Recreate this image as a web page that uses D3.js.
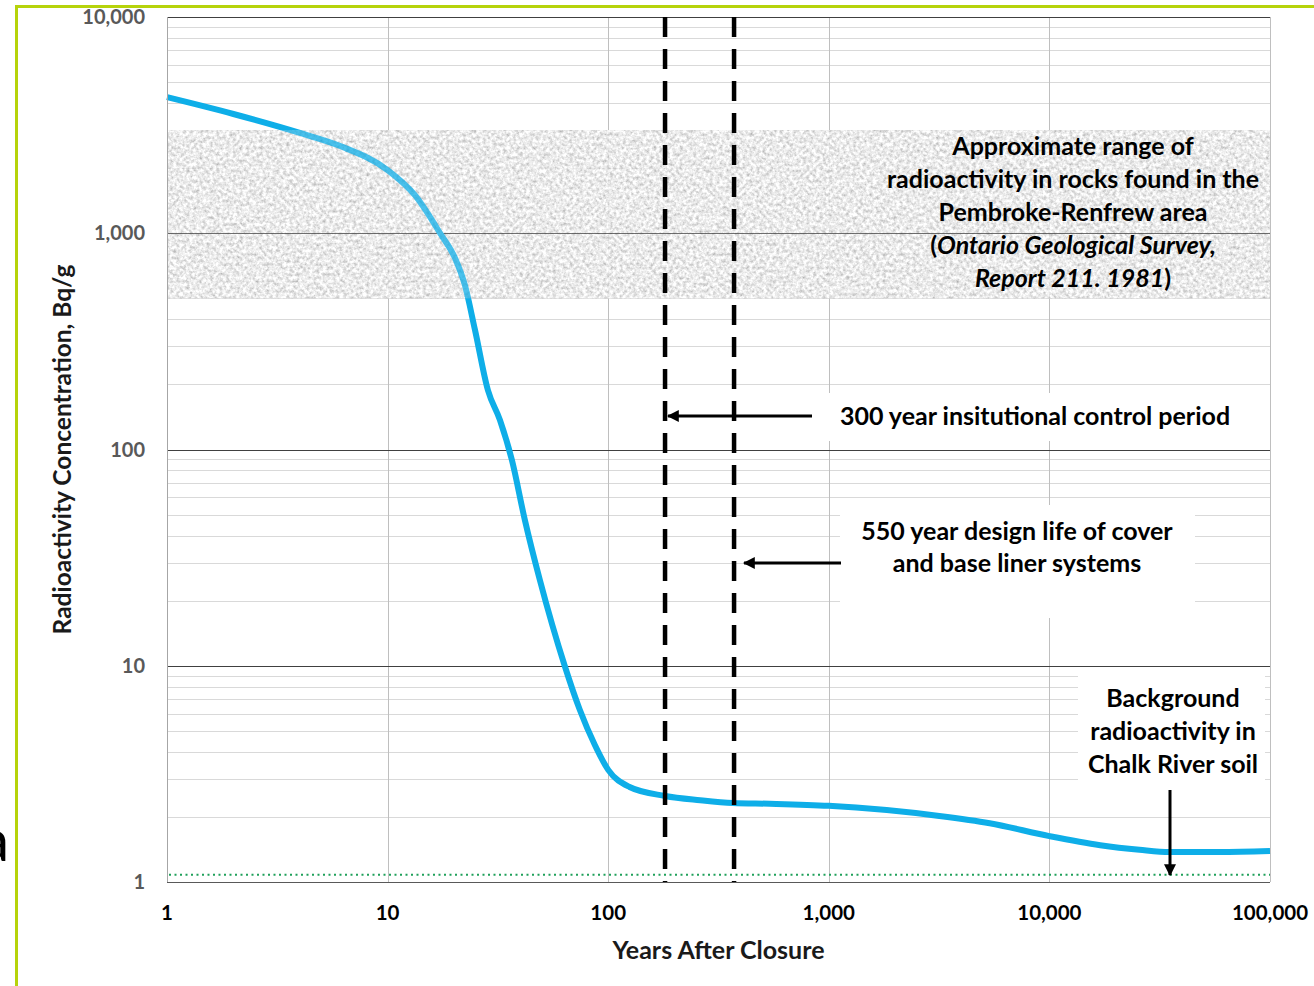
<!DOCTYPE html>
<html>
<head>
<meta charset="utf-8">
<script src="https://cdn.jsdelivr.net/npm/d3@7"></script>
<style>
  body { margin: 0; background: #fff; }
  text { font-family: Lato, "Open Sans", sans-serif; font-weight: bold; }
</style>
</head>
<body>
<div id="chart"></div>
<script>
/* DATA */
const years = [1, 2, 4, 6.1, 10, 13.3, 17.3, 20.2, 22.4, 24.9, 28.5, 32.3, 36.6, 41.9, 49, 63.5, 74.4, 87, 100, 125, 181, 261, 368, 540, 1000, 3170, 5360, 10000, 17000, 25600, 35000, 59000, 100000];
const activity = [4260, 3560, 2910, 2530, 1960, 1500, 1000, 768, 576, 357, 188, 137, 89.4, 47.2, 24.9, 10, 6.24, 4.3, 3.3, 2.75, 2.5, 2.39, 2.32, 2.3, 2.25, 2.02, 1.87, 1.63, 1.48, 1.41, 1.376, 1.376, 1.39];
const rockRange = [500, 3000];          // grey band, Bq/g
const soilBackground = 1.08;            // dotted green line
const controlLines = [181, 372];        // dashed verticals (years)
const xTicks = [1, 10, 100, 1000, 10000, 100000];
const yTicks = [1, 10, 100, 1000, 10000];

const width = 1314, height = 986,
  margin = { top: 17, right: 44, bottom: 104, left: 167 };

const svg = d3.select("#chart").append("svg")
  .attr("width", width)
  .attr("height", height);

// noisy grey texture for the rock band
const defs = svg.append("defs");
const noise = defs.append("filter").attr("id", "granite")
  .attr("x", 0).attr("y", 0).attr("width", 1).attr("height", 1);
noise.append("feTurbulence")
  .attr("type", "fractalNoise").attr("baseFrequency", 0.3)
  .attr("numOctaves", 4).attr("seed", 7).attr("result", "n");
noise.append("feColorMatrix").attr("in", "n").attr("type", "matrix")
  .attr("values", "1 0 0 0 0.32  1 0 0 0 0.32  1 0 0 0 0.32  0 0 0 0 1")
  .attr("result", "g");
noise.append("feComposite").attr("in", "g").attr("in2", "SourceGraphic").attr("operator", "in");

defs.append("marker").attr("id", "head")
  .attr("viewBox", "0 0 10 10").attr("refX", 9).attr("refY", 5)
  .attr("markerWidth", 4).attr("markerHeight", 4)
  .attr("markerUnits", "strokeWidth").attr("orient", "auto")
  .append("path").attr("d", "M0,0 L10,5 L0,10 z").attr("fill", "#000");

/* SCALES */
const xScale = d3.scaleLog()
  .domain([1, 100000])
  .range([margin.left, width - margin.right]);
const yScale = d3.scaleLog()
  .domain([1, 10000])
  .range([height - margin.bottom, margin.top]);

const x0 = xScale.range()[0], x1 = xScale.range()[1];
const yBot = yScale.range()[0], yTop = yScale.range()[1];

// border of the slide
svg.append("path")
  .attr("d", `M16.5,${height} V6.5 H${width}`)
  .attr("fill", "none").attr("stroke", "#b6d30b").attr("stroke-width", 3);
svg.append("text")
  .attr("x", 9).attr("y", 861).attr("text-anchor", "end")
  .attr("font-size", 58).style("font-weight", "normal").attr("fill", "#000")
  .text("a");

/* GRIDLINES */
const minor = [];
yTicks.slice(0, -1).forEach(t => { for (let k = 2; k <= 9; k++) minor.push(t * k); });
svg.append("g").selectAll("line").data(minor).join("line")
  .attr("x1", x0).attr("x2", x1)
  .attr("y1", d => Math.round(yScale(d)) + 0.5).attr("y2", d => Math.round(yScale(d)) + 0.5)
  .attr("stroke", "#d9d9d9");
svg.append("g").selectAll("line").data(xTicks).join("line")
  .attr("x1", d => Math.round(xScale(d)) + 0.5).attr("x2", d => Math.round(xScale(d)) + 0.5)
  .attr("y1", yTop).attr("y2", yBot)
  .attr("stroke", "#bfbfbf");

/* ROCK BAND */
function bandRect(opacity) {
  svg.append("rect")
    .attr("x", x0).attr("width", x1 - x0)
    .attr("y", yScale(rockRange[1]))
    .attr("height", yScale(rockRange[0]) - yScale(rockRange[1]))
    .attr("fill", "#ccc")
    .attr("opacity", opacity)
    .attr("filter", "url(#granite)");
}
bandRect(0.85);

svg.append("g").selectAll("line").data(yTicks.slice(1)).join("line")
  .attr("x1", x0).attr("x2", x1)
  .attr("y1", d => Math.round(yScale(d)) + 0.5).attr("y2", d => Math.round(yScale(d)) + 0.5)
  .attr("stroke", "#404040");

/* CURVE */
const lineGen = d3.line()
  .x(d => xScale(d[0]))
  .y(d => yScale(d[1]))
  .curve(d3.curveMonotoneX);
svg.append("path")
  .datum(d3.zip(years, activity))
  .attr("fill", "none")
  .attr("stroke", "#0eaee8")
  .attr("stroke-width", 6)
  .attr("stroke-linejoin", "round")
  .attr("d", lineGen);

// thin veil of the band over the curve
bandRect(0.25);

// soil background line
svg.append("line")
  .attr("x1", x0 + 2).attr("x2", x1)
  .attr("y1", yScale(soilBackground)).attr("y2", yScale(soilBackground))
  .attr("stroke", "#1fa05a").attr("stroke-width", 2)
  .attr("stroke-dasharray", "2,3.5");

// axis frame
svg.append("line").attr("x1", x0).attr("x2", x1).attr("y1", yBot + 0.5).attr("y2", yBot + 0.5)
  .attr("stroke", "#595959");
svg.append("line").attr("x1", x0 + 0.5).attr("x2", x0 + 0.5).attr("y1", yTop).attr("y2", yBot)
  .attr("stroke", "#a6a6a6");

/* WHITE LABEL BOXES */
const boxes = [[818, 393, 434, 48], [840, 505, 355, 113], [1078, 672, 187, 112]];
svg.append("g").selectAll("rect").data(boxes).join("rect")
  .attr("x", d => d[0]).attr("y", d => d[1])
  .attr("width", d => d[2]).attr("height", d => d[3])
  .attr("fill", "#fff");

/* DASHED PERIOD LINES */
svg.append("g").selectAll("line").data(controlLines).join("line")
  .attr("x1", d => xScale(d)).attr("x2", d => xScale(d))
  .attr("y1", yTop).attr("y2", yBot)
  .attr("stroke", "#000").attr("stroke-width", 4.5)
  .attr("stroke-dasharray", "20,12");

/* AXES LABELS */
const fmt = d3.format(",");
svg.append("g").selectAll("text").data(yTicks).join("text")
  .attr("x", 145).attr("y", d => yScale(d))
  .attr("dy", "0.35em").attr("text-anchor", "end")
  .attr("font-size", 20).attr("fill", "#595959")
  .text(d => fmt(d));
svg.append("g").selectAll("text").data(xTicks).join("text")
  .attr("x", d => xScale(d)).attr("y", 913)
  .attr("dy", "0.35em").attr("text-anchor", "middle")
  .attr("font-size", 20.5).attr("fill", "#000")
  .text(d => fmt(d));

svg.append("text")
  .attr("x", (x0 + x1) / 2).attr("y", 950).attr("dy", "0.35em")
  .attr("text-anchor", "middle").attr("font-size", 25).attr("fill", "#1a1a1a")
  .text("Years After Closure");
svg.append("text")
  .attr("transform", `translate(62, ${(yTop + yBot) / 2}) rotate(-90)`)
  .attr("dy", "0.35em").attr("text-anchor", "middle")
  .attr("font-size", 24.5).attr("fill", "#1a1a1a")
  .text("Radioactivity Concentration, Bq/g");

/* ANNOTATIONS */
function note(lines, cx, cy, step) {
  const t = svg.append("text").attr("text-anchor", "middle").attr("font-size", 25).attr("fill", "#000");
  lines.forEach((ln, i) => {
    const tl = t.append("tspan").attr("x", cx).attr("y", cy + i * step).attr("dy", "0.35em");
    ln.forEach(part => tl.append("tspan").style("font-style", part[1] ? "italic" : "normal").text(part[0]));
  });
}
note([[["Approximate range of"]], [["radioactivity in rocks found in the"]], [["Pembroke-Renfrew area"]],
  [["("], ["Ontario Geological Survey,", 1]], [["Report 211. 1981", 1], [")"]]], 1073, 146, 33);
note([[["300 year insitutional control period"]]], 1035, 416, 0);
note([[["550 year design life of cover"]], [["and base liner systems"]]], 1017, 531, 32.5);
note([[["Background"]], [["radioactivity in"]], [["Chalk River soil"]]], 1173, 698, 33);

/* ARROWS */
const arrows = [[812, 416, 668, 416], [841, 563, 744, 563], [1170, 790, 1170, 875]];
svg.append("g").selectAll("line").data(arrows).join("line")
  .attr("x1", d => d[0]).attr("y1", d => d[1])
  .attr("x2", d => d[2]).attr("y2", d => d[3])
  .attr("stroke", "#000").attr("stroke-width", 3)
  .attr("marker-end", "url(#head)");
</script>
</body>
</html>
